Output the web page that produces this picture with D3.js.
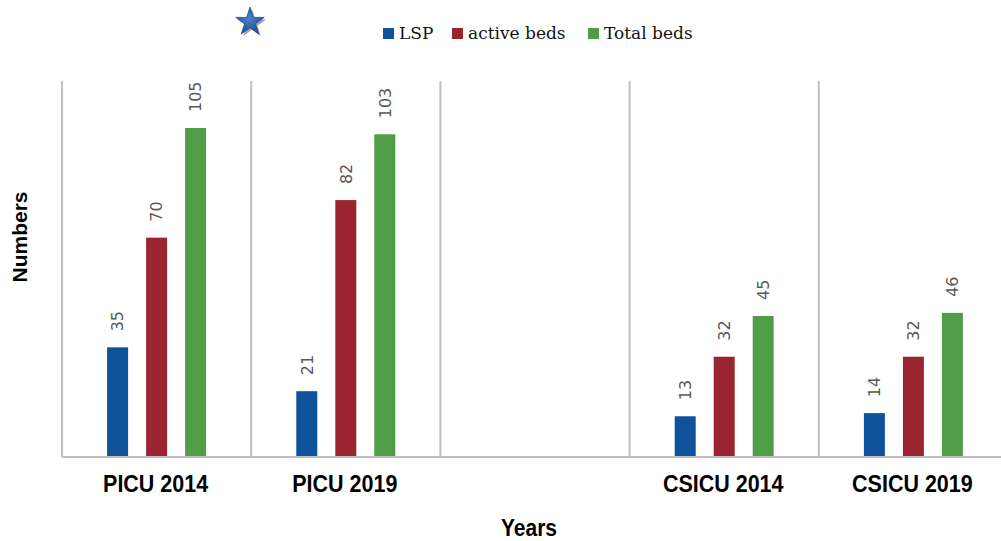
<!DOCTYPE html>
<html>
<head>
<meta charset="utf-8">
<script src="https://cdn.jsdelivr.net/npm/d3@7"></script>
<style>
  html, body { margin: 0; padding: 0; background: #fff; }
  svg { display: block; }
</style>
</head>
<body>
<svg id="chart" width="1001" height="541"></svg>
<script>
// ---- data ----
const categories = ["PICU 2014", "PICU 2019", "", "CSICU 2014", "CSICU 2019"];
const seriesNames = ["LSP", "active beds", "Total beds"];
const lspValues = [35, 21, null, 13, 14];
const activeBedsValues = [70, 82, null, 32, 32];
const totalBedsValues = [105, 103, null, 45, 46];
const seriesColors = ["#0f529c", "#9a2530", "#4f9d47"];
const yDomain = [0, 120];

const seriesValues = [lspValues, activeBedsValues, totalBedsValues];

const svg = d3.select("#chart");
const W = 1001, H = 541;
const plotLeft = 62, plotRight = 1008, plotBottom = 457, plotTop = 81;

const x0 = d3.scaleBand().domain(categories.map((c, i) => i)).range([plotLeft, plotRight]).padding(0);
const y = d3.scaleLinear().domain(yDomain).range([plotBottom, plotTop]);

// inner band scale: step 39, bar width 21
const x1 = d3.scaleBand().domain(seriesNames).range([-49.5, 49.5]).paddingInner(18 / 39).paddingOuter(0);

// vertical separators (band boundaries)
const bounds = categories.map((c, i) => x0(i));
svg.append("g").selectAll("line").data(bounds).join("line")
  .attr("x1", d => d).attr("x2", d => d)
  .attr("y1", y(yDomain[1])).attr("y2", plotBottom)
  .attr("stroke", "#c0c0c0").attr("stroke-width", 2);

// bars
const gBars = svg.append("g");
seriesNames.forEach((s, si) => {
  const data = categories.map((c, i) => ({ i, v: seriesValues[si][i] })).filter(d => d.v != null);
  gBars.selectAll("rect.s" + si).data(data).join("rect")
    .attr("class", "s" + si)
    .attr("x", d => x0(d.i) + x0.bandwidth() / 2 + x1(s))
    .attr("width", x1.bandwidth())
    .attr("y", d => y(d.v))
    .attr("height", d => plotBottom - y(d.v))
    .attr("fill", seriesColors[si]);
  gBars.selectAll("text.l" + si).data(data).join("text")
    .attr("class", "l" + si)
    .attr("transform", d => `translate(${x0(d.i) + x0.bandwidth() / 2 + x1(s) + x1.bandwidth() / 2},${y(d.v) - 16}) rotate(-90)`)
    .attr("dy", "0.36em")
    .attr("text-anchor", "start")
    .attr("font-family", "DejaVu Sans, sans-serif")
    .attr("font-size", 16)
    .attr("fill", "#595959")
    .text(d => d.v);
});

// x axis line
svg.append("line")
  .attr("x1", plotLeft).attr("x2", W)
  .attr("y1", plotBottom).attr("y2", plotBottom)
  .attr("stroke", "#c0c0c0").attr("stroke-width", 2);

// category labels
svg.append("g").selectAll("text").data(categories.map((c, i) => ({ c, i })).filter(d => d.c)).join("text")
  .attr("transform", d => `translate(${x0(d.i) + x0.bandwidth() / 2 - 1},492) scale(1,1.12)`)
  .attr("text-anchor", "middle")
  .attr("font-family", "Liberation Sans, Arial, sans-serif")
  .attr("font-weight", "bold")
  .attr("font-size", 21.5)
  .attr("fill", "#000")
  .text(d => d.c);

// axis titles
svg.append("text")
  .attr("transform", `translate(529,536) scale(1,1.1)`)
  .attr("text-anchor", "middle")
  .attr("font-family", "Liberation Sans, Arial, sans-serif")
  .attr("font-weight", "bold")
  .attr("font-size", 21)
  .text("Years");

svg.append("text")
  .attr("transform", `translate(27,237) rotate(-90)`)
  .attr("text-anchor", "middle")
  .attr("font-family", "Liberation Sans, Arial, sans-serif")
  .attr("font-weight", "bold")
  .attr("font-size", 21)
  .text("Numbers");

// legend
const legendItems = [
  { name: seriesNames[0], color: seriesColors[0], x: 383 },
  { name: seriesNames[1], color: seriesColors[1], x: 452 },
  { name: seriesNames[2], color: seriesColors[2], x: 588 }
];
const lg = svg.append("g").selectAll("g").data(legendItems).join("g")
  .attr("transform", d => `translate(${d.x},0)`);
lg.append("rect").attr("x", 0).attr("y", 28).attr("width", 11).attr("height", 11).attr("fill", d => d.color);
lg.append("text").attr("x", 16).attr("y", 39)
  .attr("font-family", "DejaVu Serif, serif")
  .attr("font-size", 17)
  .attr("fill", "#111")
  .text(d => d.name);

// star decoration
const defs = svg.append("defs");
const grad = defs.append("radialGradient").attr("id", "starGrad").attr("cx", "45%").attr("cy", "40%").attr("r", "60%");
grad.append("stop").attr("offset", "0%").attr("stop-color", "#4a80c8");
grad.append("stop").attr("offset", "100%").attr("stop-color", "#234f93");
const starPath = d3.symbol(d3.symbolStar, 250)();
svg.append("path").attr("d", starPath).attr("transform", "translate(252,24)").attr("fill", "#8a8a8a").attr("opacity", 0.8);
svg.append("path").attr("d", starPath).attr("transform", "translate(250,22)").attr("fill", "url(#starGrad)").attr("stroke", "#1f4a8a").attr("stroke-width", 0.8);
</script>
</body>
</html>
